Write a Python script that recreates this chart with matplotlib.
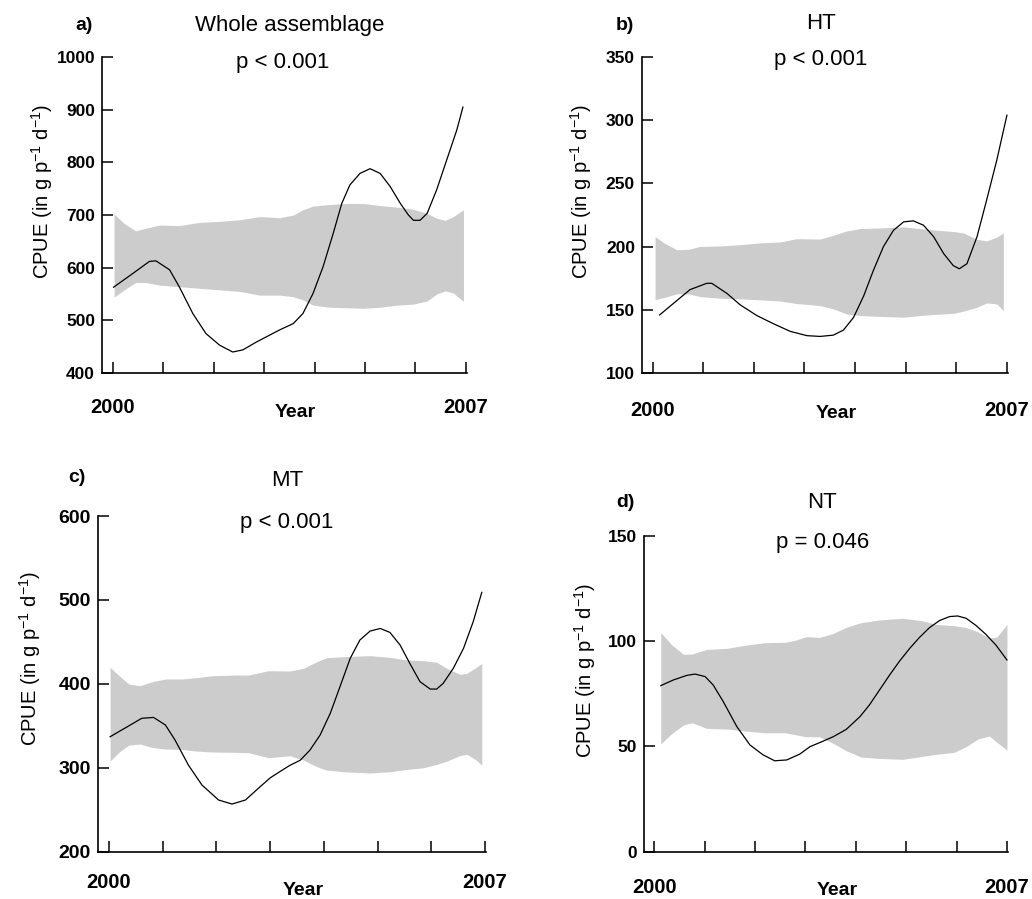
import matplotlib
matplotlib.use("Agg")
import matplotlib.pyplot as plt

plt.rcParams['font.family'] = ['Liberation Sans', 'DejaVu Sans']
plt.rcParams['mathtext.fontset'] = 'custom'
plt.rcParams['mathtext.rm'] = 'Liberation Sans'
plt.rcParams['mathtext.default'] = 'regular'

# ---------------- data ----------------
# a) whole assemblage
a_year = [2000.02, 2000.4, 2000.73, 2000.86, 2001.13, 2001.32, 2001.59, 2001.85, 2002.12,
          2002.38, 2002.58, 2002.85, 2003.05, 2003.31, 2003.58, 2003.77, 2003.97, 2004.17,
          2004.37, 2004.54, 2004.70, 2004.9, 2005.1, 2005.3, 2005.5, 2005.7, 2005.86,
          2005.96, 2006.09, 2006.23, 2006.42, 2006.62, 2006.82, 2006.94]
a_cpue = [563, 589, 612, 613, 596, 564, 513, 475, 453, 440, 444, 459, 469, 482, 494, 513,
          551, 602, 665, 722, 757, 779, 788, 779, 754, 722, 700, 690, 690, 703, 748, 805,
          862, 905]
a_band_year = [2000.03, 2000.23, 2000.46, 2000.66, 2000.93, 2001.32, 2001.72, 2002.12, 2002.52,
               2002.91, 2003.31, 2003.58, 2003.77, 2003.97, 2004.3, 2004.64, 2004.97, 2005.3,
               2005.64, 2005.96, 2006.23, 2006.42, 2006.59, 2006.75, 2006.95]
a_band_hi = [702, 684, 670, 675, 681, 680, 686, 688, 691, 697, 695, 700, 710, 717, 720, 722,
             722, 718, 715, 711, 703, 694, 690, 697, 710]
a_band_lo = [544, 558, 572, 572, 567, 564, 561, 558, 555, 548, 548, 545, 539, 529, 525, 524,
             523, 525, 529, 531, 537, 550, 556, 552, 536]

# b) HT
b_year = [2000.14, 2000.41, 2000.74, 2001.07, 2001.17, 2001.47, 2001.73, 2002.06, 2002.39,
          2002.72, 2003.05, 2003.31, 2003.57, 2003.77, 2003.97, 2004.17, 2004.36, 2004.56,
          2004.76, 2004.96, 2005.15, 2005.35, 2005.55, 2005.75, 2005.94, 2006.06, 2006.21,
          2006.41, 2006.6, 2006.8, 2007.0]
b_cpue = [146, 155, 166, 171, 171, 163, 154, 145.5, 139, 133, 129.6, 129, 130, 134, 144, 161,
          181, 200, 213, 219.6, 220.4, 217, 208, 194.5, 185, 182.5, 186.5, 208, 237, 268.5, 304]
b_band_year = [2000.05, 2000.25, 2000.48, 2000.71, 2000.94, 2001.34, 2001.73, 2002.13, 2002.52,
               2002.85, 2003.31, 2003.57, 2003.83, 2004.1, 2004.5, 2004.96, 2005.28, 2005.61,
               2005.94, 2006.14, 2006.41, 2006.6, 2006.8, 2006.93]
b_band_hi = [208, 202.4, 197.6, 197.9, 200.2, 200.5, 201.6, 203, 203.7, 206.3, 206, 209, 212.4,
             214.3, 214.8, 215.6, 214.3, 213, 212, 210.8, 205.8, 204.5, 207.6, 210.8]
b_band_lo = [158, 160, 162.7, 162.7, 160.5, 159.2, 158.7, 157.9, 157, 155, 153.4, 150.8, 146.8,
             145.5, 144.8, 144.2, 145.5, 146.5, 147.2, 149, 152.1, 155.5, 154.7, 149.4]

# c) MT
c_year = [2000.02, 2000.37, 2000.61, 2000.83, 2001.05, 2001.23, 2001.48, 2001.73, 2002.04,
          2002.29, 2002.54, 2002.78, 2003.0, 2003.22, 2003.37, 2003.56, 2003.74, 2003.93,
          2004.12, 2004.3, 2004.49, 2004.67, 2004.86, 2005.05, 2005.23, 2005.42, 2005.6,
          2005.79, 2005.98, 2006.1, 2006.22, 2006.41, 2006.6, 2006.78, 2006.94]
c_cpue = [337, 350, 359, 360, 351, 333, 303, 279.5, 261.6, 256.8, 261.6, 275.5, 288, 297, 303,
          309, 321, 339, 365, 396.6, 430.3, 452.2, 462.9, 466, 461.3, 446.2, 424.4, 402.6,
          393.8, 393.8, 400.5, 418.5, 442.3, 474, 509]
c_band_year = [2000.02, 2000.21, 2000.37, 2000.58, 2000.8, 2001.05, 2001.36, 2001.61, 2001.92,
               2002.35, 2002.6, 2002.97, 2003.37, 2003.62, 2003.87, 2004.05, 2004.36, 2004.86,
               2005.23, 2005.54, 2005.85, 2006.1, 2006.29, 2006.53, 2006.66, 2006.81, 2006.94]
c_band_hi = [419.7, 408.5, 399.8, 397.8, 402.6, 405.8, 405.8, 407.3, 409.7, 410.5, 410.5, 415.7,
             415.3, 418.5, 426.5, 431.2, 432.4, 433.6, 431.6, 428.5, 427.7, 425.7, 418.5, 411.4,
             412.6, 418.5, 424.4]
c_band_lo = [308, 320, 327, 328.3, 324.3, 322.3, 321.9, 320, 318.8, 318.4, 318, 312, 314.4,
             309.2, 301.3, 297.3, 295.3, 293.8, 295.3, 298, 300, 304, 308, 314.5, 316, 310.4, 303.3]

# d) NT
d_year = [2000.13, 2000.38, 2000.65, 2000.81, 2001.01, 2001.17, 2001.37, 2001.64, 2001.9,
          2002.16, 2002.39, 2002.63, 2002.89, 2003.09, 2003.28, 2003.55, 2003.81, 2004.08,
          2004.27, 2004.47, 2004.67, 2004.87, 2005.07, 2005.26, 2005.46, 2005.66, 2005.86,
          2006.02, 2006.19, 2006.39, 2006.58, 2006.78, 2007.0]
d_cpue = [78.9, 81.6, 83.8, 84.4, 83.2, 79.2, 71.3, 59.4, 50.7, 46, 43.2, 43.6, 46.4, 49.9, 51.8,
          54.6, 58.1, 64.1, 69.7, 76.8, 83.9, 90.6, 96.6, 101.7, 106.4, 109.8, 111.7, 112,
          110.9, 107.4, 103.3, 98.2, 91.1]
d_band_year = [2000.13, 2000.35, 2000.58, 2000.75, 2001.04, 2001.44, 2001.83, 2002.2, 2002.6,
               2002.82, 2003.02, 2003.28, 2003.55, 2003.81, 2004.1, 2004.47, 2004.93, 2005.3,
               2005.6, 2005.95, 2006.19, 2006.42, 2006.65, 2006.8, 2007.0]
d_band_hi = [104.1, 98.2, 93.8, 93.9, 96.1, 96.6, 98.2, 99.3, 99.5, 100.6, 102.2, 101.8, 103.7,
             106.6, 108.8, 110.1, 110.9, 109.8, 108, 107.4, 106.5, 104.5, 101.5, 102, 108]
d_band_lo = [51.2, 56.2, 60.2, 61.3, 58.6, 58.3, 57.3, 56.5, 56.5, 55.5, 54.6, 54.6, 51.5, 48,
             45, 44.3, 43.9, 45.2, 46.3, 47.2, 49.9, 53.5, 55, 52, 48.3]

years = list(range(2000, 2008))
year_labels = ['2000', '', '', '', '', '', '', '2007']
ylabel = r'CPUE (in g p$^{-1}$ d$^{-1}$)'

fig = plt.figure(figsize=(10.32, 8.99), dpi=100)


def panel(rect, letter, title, ptext, x, y, bx, bhi, blo, yticks,
          letter_xy, title_xy, p_xy, ylab_x, xpad, xlab_y, ysize=12.5):
    ax = fig.add_axes(rect)
    ax.fill_between(bx, blo, bhi, color='#cccccc', linewidth=0)
    ax.plot(x, y, color='black', lw=0.9)
    ax.set_xlim(1999.79, 2007.02)
    ax.set_ylim(yticks[0], yticks[-1])
    ax.spines['top'].set_visible(False)
    ax.spines['right'].set_visible(False)
    for s in ('left', 'bottom'):
        ax.spines[s].set_linewidth(1.2)
    ax.tick_params(axis='both', direction='in', length=8, width=1.1)
    ax.tick_params(axis='x', pad=xpad, labelsize=14.5)
    ax.tick_params(axis='y', pad=5, labelsize=ysize)
    ax.set_xticks(years, year_labels)
    ax.set_yticks(yticks, [str(t) for t in yticks])
    for lbl in ax.get_xticklabels() + ax.get_yticklabels():
        lbl.set_fontweight('bold')
    ax.set_xlabel('Year', fontsize=14, fontweight='bold')
    ax.xaxis.set_label_coords(0.53, xlab_y)
    ax.set_ylabel(ylabel, fontsize=14.5)
    ax.yaxis.set_label_coords(ylab_x, 0.575)
    ax.text(*letter_xy, letter, transform=ax.transAxes, fontsize=14, fontweight='bold',
            ha='center', va='center')
    ax.text(*title_xy, title, transform=ax.transAxes, fontsize=16, ha='center', va='center')
    ax.text(*p_xy, ptext, transform=ax.transAxes, fontsize=16, ha='center', va='center')
    return ax


panel([0.0988, 0.585, 0.3537, 0.3516], 'a)', 'Whole assemblage', 'p < 0.001',
      a_year, a_cpue, a_band_year, a_band_hi, a_band_lo, [400, 500, 600, 700, 800, 900, 1000],
      (-0.049, 1.101), (0.515, 1.101), (0.496, 0.984), -0.13, 18, -0.098)

panel([0.622, 0.585, 0.3547, 0.3516], 'b)', 'HT', 'p < 0.001',
      b_year, b_cpue, b_band_year, b_band_hi, b_band_lo, [100, 150, 200, 250, 300, 350],
      (-0.046, 1.101), (0.489, 1.105), (0.489, 0.991), -0.13, 20, -0.101)

panel([0.0947, 0.0526, 0.3763, 0.3734], 'c)', 'MT', 'p < 0.001',
      c_year, c_cpue, c_band_year, c_band_hi, c_band_lo, [200, 300, 400, 500, 600],
      (-0.053, 1.116), (0.487, 1.107), (0.487, 0.982), -0.14, 15, -0.09, ysize=14)

panel([0.6237, 0.0526, 0.353, 0.3512], 'd)', 'NT', 'p = 0.046',
      d_year, d_cpue, d_band_year, d_band_hi, d_band_lo, [0, 50, 100, 150],
      (-0.051, 1.105), (0.489, 1.105), (0.492, 0.978), -0.125, 19, -0.095)

plt.savefig('out.png', dpi=100)
